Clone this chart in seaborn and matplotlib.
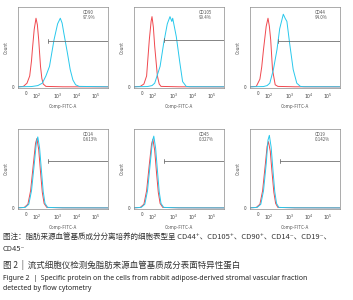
import matplotlib
matplotlib.use("Agg")
import matplotlib.pyplot as plt
import seaborn as sns

sns.set_style("white")
plt.rcParams['font.family'] = ['Noto Sans CJK SC', 'DejaVu Sans']

# ---- data (x in display units of the biexponential FITC axis, y = count) ----
markers = ["CD90", "CD105", "CD44", "CD14", "CD45", "CD19"]
percents = ["97.9%", "99.4%", "94.0%", "0.613%", "0.327%", "0.142%"]

tick_pos = [0.09, 0.21, 0.44, 0.65, 0.86]
tick_labels = ["0", r"$10^2$", r"$10^3$", r"$10^4$", r"$10^5$"]

# isotype control (red)
cd90_ctrl_x = [0.0, 0.06, 0.10, 0.13, 0.15, 0.16, 0.18, 0.20, 0.215, 0.23, 0.25, 0.265, 0.28, 0.31, 0.5, 1.0]
cd90_ctrl_y = [0.5, 1, 5, 14, 33, 47, 72, 86, 78, 59, 26, 11, 4, 1, 0.5, 0.4]
cd105_ctrl_x = [0.0, 0.07, 0.11, 0.14, 0.17, 0.19, 0.20, 0.215, 0.23, 0.26, 0.28, 0.30, 0.5, 1.0]
cd105_ctrl_y = [0.5, 1, 4, 14, 59, 82, 88, 75, 51, 14, 4, 1, 0.5, 0.4]
cd44_ctrl_x = [0.0, 0.07, 0.11, 0.13, 0.15, 0.18, 0.20, 0.215, 0.23, 0.25, 0.28, 0.31, 0.5, 1.0]
cd44_ctrl_y = [0.5, 1, 10, 25, 47, 76, 86, 76, 59, 22, 3, 1, 0.5, 0.4]
cd14_ctrl_x = [0.0, 0.07, 0.11, 0.14, 0.17, 0.195, 0.21, 0.23, 0.25, 0.27, 0.29, 0.32, 0.5, 1.0]
cd14_ctrl_y = [0.5, 1, 5, 22, 55, 82, 88, 74, 46, 20, 6, 1, 0.5, 0.4]
cd45_ctrl_x = [0.0, 0.07, 0.11, 0.14, 0.17, 0.195, 0.21, 0.23, 0.25, 0.27, 0.29, 0.32, 0.5, 1.0]
cd45_ctrl_y = [0.5, 1, 5, 22, 55, 81, 87, 73, 45, 20, 6, 1, 0.5, 0.4]
cd19_ctrl_x = [0.0, 0.07, 0.11, 0.14, 0.17, 0.19, 0.205, 0.225, 0.245, 0.265, 0.285, 0.31, 0.5, 1.0]
cd19_ctrl_y = [0.5, 1, 5, 22, 55, 78, 84, 72, 45, 20, 6, 1, 0.5, 0.4]

# stained sample (cyan)
cd90_stain_x = [0.0, 0.15, 0.22, 0.27, 0.31, 0.35, 0.40, 0.44, 0.47, 0.49, 0.51, 0.55, 0.58, 0.61, 0.64, 0.68, 1.0]
cd90_stain_y = [0.5, 0.8, 2, 5, 14, 26, 59, 79, 86, 80, 67, 42, 22, 9, 3, 1, 0.5]
cd105_stain_x = [0.0, 0.15, 0.20, 0.23, 0.29, 0.33, 0.37, 0.40, 0.42, 0.43, 0.47, 0.51, 0.54, 0.58, 0.62, 1.0]
cd105_stain_y = [0.5, 0.8, 2, 5, 26, 55, 79, 88, 82, 86, 63, 30, 7, 1, 0.6, 0.5]
cd44_stain_x = [0.0, 0.15, 0.19, 0.22, 0.26, 0.30, 0.33, 0.37, 0.39, 0.41, 0.44, 0.48, 0.52, 0.56, 0.60, 1.0]
cd44_stain_y = [0.5, 0.8, 2, 5, 22, 47, 73, 91, 86, 82, 55, 22, 5, 1, 0.6, 0.5]
cd14_stain_x = [0.0, 0.08, 0.12, 0.15, 0.18, 0.205, 0.22, 0.24, 0.26, 0.28, 0.30, 0.33, 0.5, 1.0]
cd14_stain_y = [0.5, 1, 5, 22, 55, 84, 90, 76, 48, 21, 6, 1, 0.5, 0.4]
cd45_stain_x = [0.0, 0.08, 0.12, 0.15, 0.18, 0.205, 0.22, 0.24, 0.26, 0.28, 0.30, 0.33, 0.5, 1.0]
cd45_stain_y = [0.5, 1, 5, 22, 56, 85, 91, 76, 48, 21, 6, 1, 0.5, 0.4]
cd19_stain_x = [0.0, 0.08, 0.12, 0.15, 0.18, 0.20, 0.215, 0.235, 0.255, 0.275, 0.295, 0.32, 0.5, 1.0]
cd19_stain_y = [0.5, 1, 5, 22, 56, 86, 92, 77, 48, 21, 6, 1, 0.5, 0.4]

gate_start = [0.33, 0.33, 0.31, 0.33, 0.33, 0.33]
gate_level = [58, 59, 57, 60, 60, 60]

ctrl = [(cd90_ctrl_x, cd90_ctrl_y), (cd105_ctrl_x, cd105_ctrl_y), (cd44_ctrl_x, cd44_ctrl_y),
        (cd14_ctrl_x, cd14_ctrl_y), (cd45_ctrl_x, cd45_ctrl_y), (cd19_ctrl_x, cd19_ctrl_y)]
stain = [(cd90_stain_x, cd90_stain_y), (cd105_stain_x, cd105_stain_y), (cd44_stain_x, cd44_stain_y),
         (cd14_stain_x, cd14_stain_y), (cd45_stain_x, cd45_stain_y), (cd19_stain_x, cd19_stain_y)]

RED = "#f0484e"
CYAN = "#28c8ec"
FRAME = "#8a8a8a"

fig = plt.figure(figsize=(3.53, 3.00), dpi=100)
W, H = 353, 300
lefts = [18, 134, 250]
rows = [(7, 88), (129, 209)]

for i in range(6):
    r, c = divmod(i, 3)
    top, bot = rows[r]
    ax = fig.add_axes([lefts[c] / W, (H - bot) / H, 90 / W, (bot - top) / H])
    cx, cy = ctrl[i]
    sx, sy = stain[i]
    sns.lineplot(x=cx, y=cy, ax=ax, color=RED, lw=0.7, sort=False)
    sns.lineplot(x=sx, y=sy, ax=ax, color=CYAN, lw=0.7, sort=False)
    ax.set_xlim(0, 1)
    ax.set_ylim(-1, 100)
    ax.set_xticks(tick_pos)
    ax.set_xticklabels(tick_labels, fontsize=3.3, color="#444444")
    ax.set_yticks([0])
    ax.set_yticklabels(["0"], fontsize=3.3, color="#444444")
    ax.tick_params(axis='both', direction='out', length=1.5, width=0.4, pad=1, color=FRAME)
    ax.set_xlabel("Comp-FITC-A", fontsize=3.3, color="#555555", labelpad=2)
    ax.set_ylabel("Count", fontsize=3.3, color="#555555", labelpad=2)
    for s in ax.spines.values():
        s.set_color(FRAME)
        s.set_linewidth(0.5)
    # gate
    ax.plot([gate_start[i], 1.0], [gate_level[i], gate_level[i]], color="#707070", lw=0.6)
    ax.plot([gate_start[i], gate_start[i]], [gate_level[i] - 2.5, gate_level[i] + 2.5], color="#707070", lw=0.6)
    ax.text(0.72, 0.96, markers[i], transform=ax.transAxes, fontsize=3.2, color="#555555", va="top")
    ax.text(0.72, 0.90, percents[i], transform=ax.transAxes, fontsize=3.2, color="#555555", va="top")

fs = 5.45
fig.text(3 / W, 1 - 238 / H, "图注：脂肪来源血管基质成分分离培养的细胞表型呈 CD44⁺、CD105⁺、CD90⁺、CD14⁻、CD19⁻、",
         fontsize=fs, color="#333333", va="center")
fig.text(3 / W, 1 - 249 / H, "CD45⁻", fontsize=fs, color="#333333", va="center")
fig.text(3 / W, 1 - 265 / H, "图 2  |  流式细胞仪检测兔脂肪来源血管基质成分表面特异性蛋白",
         fontsize=6.1, color="#333333", va="center")

efs = 5.0
efam = ["Noto Sans", "DejaVu Sans"]
t1 = fig.text(3 / W, 1 - 278 / H, "Figure 2", fontsize=efs, color="#222222", va="center",
              family=efam, weight="bold")
fig.canvas.draw()
bb = t1.get_window_extent()
fig.text(bb.x1 / fig.bbox.width, 1 - 278 / H,
         "  |  Specific protein on the cells from rabbit adipose-derived stromal vascular fraction",
         fontsize=efs, color="#222222", va="center", family=efam)
fig.text(3 / W, 1 - 289 / H, "detected by flow cytometry",
         fontsize=efs, color="#222222", va="center", family=efam)

fig.savefig("out.png", dpi=100)
